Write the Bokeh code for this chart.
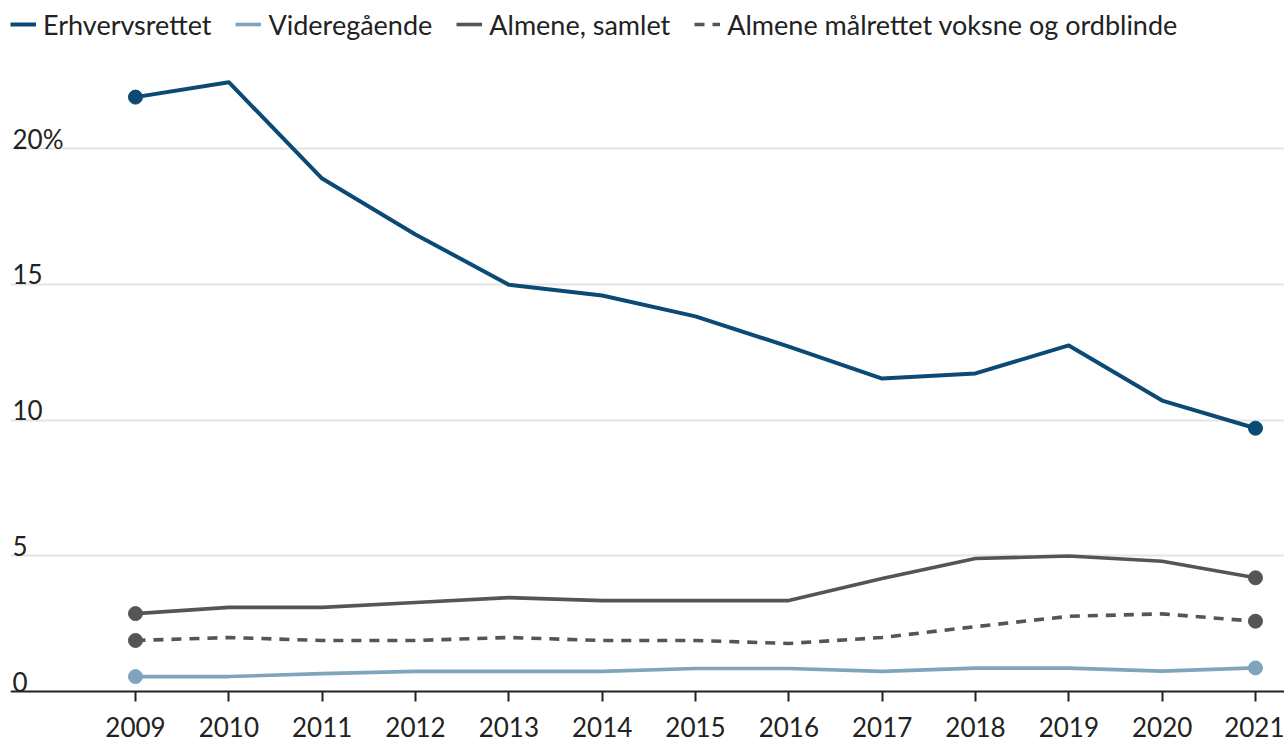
from bokeh.plotting import figure
from bokeh.models import Range1d, FixedTicker, Legend, LegendItem, Grid
from bokeh.core.properties import value
from bokeh.embed import file_html
from bokeh.resources import INLINE

years = list(range(2009, 2022))
erhvervsrettet = [21.9, 22.45, 18.9, 16.84, 14.99, 14.59, 13.82, 12.71, 11.53, 11.72, 12.75, 10.72, 9.7]
videregaende = [0.55, 0.55, 0.66, 0.74, 0.74, 0.74, 0.85, 0.85, 0.74, 0.86, 0.86, 0.75, 0.87]
almene_samlet = [2.87, 3.1, 3.1, 3.28, 3.46, 3.35, 3.35, 3.35, 4.16, 4.9, 4.99, 4.8, 4.19]
almene_maalrettet = [1.88, 1.99, 1.88, 1.88, 1.99, 1.88, 1.88, 1.77, 1.99, 2.39, 2.77, 2.86, 2.59]

ytick_values = [0, 5, 10, 15, 20]
ytick_labels = ["0", "5", "10", "15", "20%"]

series_names = ["Erhvervsrettet", "Videregående", "Almene, samlet", "Almene målrettet voksne og ordblinde"]
colors = ["#0b4a74", "#7fa4be", "#555555", "#555555"]

FONT = "Lato"
TXT = "#222222"

x0, x1 = 2007.661, 2021.311
p = figure(width=1284, height=742, output_backend="svg", toolbar_location=None,
           x_range=Range1d(x0, x1), y_range=Range1d(-1.879, 25.46),
           y_axis_location=None, min_border_left=10, min_border_right=0,
           min_border_top=0, min_border_bottom=0)
p.outline_line_color = None
p.background_fill_color = "white"
p.border_fill_color = "white"
p.xgrid.visible = False
p.ygrid.visible = False
p.add_layout(Grid(dimension=1, ticker=FixedTicker(ticks=ytick_values[1:]),
                  grid_line_color="#e4e4e4", grid_line_width=2))

ax = p.xaxis[0]
ax.fixed_location = 0
ax.ticker = FixedTicker(ticks=years)
ax.axis_line_color = TXT
ax.axis_line_width = 2
ax.major_tick_line_color = TXT
ax.major_tick_line_width = 2
ax.major_tick_in = 0
ax.major_tick_out = 10
ax.minor_tick_line_color = None
ax.major_label_text_font = FONT
ax.major_label_text_font_size = "26px"
ax.major_label_text_color = TXT
ax.major_label_standoff = 15

# y tick labels
p.text(x=[x0] * len(ytick_values), y=ytick_values, text=ytick_labels,
       text_font=value(FONT), text_font_size="26px", text_color=TXT,
       text_baseline="alphabetic", text_align="left", x_offset=2, y_offset=-10)

series = [erhvervsrettet, videregaende, almene_samlet, almene_maalrettet]
widths = [4, 3.6, 3.6, 3.6]
dashes = ["solid", "solid", "solid", "10 8"]
renderers = []
for name, vals, col, w, d in zip(series_names, series, colors, widths, dashes):
    r = p.line(years, vals, line_color=col, line_width=w, line_dash=d, line_join="round")
    p.scatter([years[0], years[-1]], [vals[0], vals[-1]], size=14, color=col)
    renderers.append(r)

legend = Legend(items=[LegendItem(label=n, renderers=[r]) for n, r in zip(series_names, renderers)],
                orientation="horizontal", location="top_left", margin=0, padding=0,
                spacing=24, glyph_width=26, glyph_height=48, label_height=48,
                label_standoff=7, label_text_font=FONT, label_text_font_size="27px",
                label_text_color=TXT, border_line_color=None, background_fill_alpha=0)
p.add_layout(legend)

open("out.html", "w").write(file_html(p, INLINE))
